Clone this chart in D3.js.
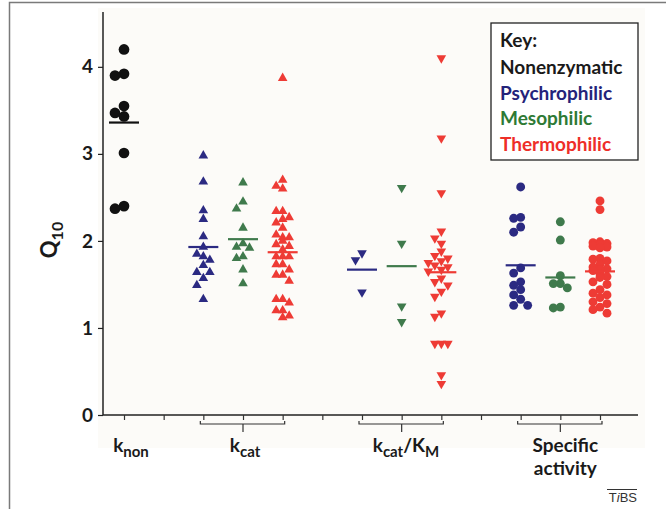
<!DOCTYPE html>
<html>
<head>
<meta charset="utf-8">
<script src="https://cdn.jsdelivr.net/npm/d3@7"></script>
<style>
  body { margin: 0; background: #fff; }
  text { font-family: Lato, "Open Sans", sans-serif; }
</style>
</head>
<body>
<script>
// values
var slotCount = 13;
var yTicks = [0, 1, 2, 3, 4];

var knon = [4.20, 3.92, 3.90, 3.55, 3.47, 3.43, 3.01, 2.40, 2.37];
var knonMean = 3.36;

var kcatPsy = [2.98, 2.68, 2.35, 2.25, 2.05, 1.93, 1.85, 1.82, 1.78, 1.72, 1.64, 1.64, 1.57, 1.49, 1.33];
var kcatMeso = [2.67, 2.45, 2.37, 2.15, 1.97, 1.92, 1.93, 1.80, 1.82, 1.67, 1.51];
var kcatThermo = [3.87, 2.70, 2.63, 2.60, 2.34, 2.34, 2.27, 2.25, 2.21, 2.15, 2.07, 2.04, 2.04, 2.00, 1.96,
                  1.94, 1.90, 1.82, 1.82, 1.82, 1.73, 1.73, 1.67, 1.61, 1.61, 1.54, 1.33, 1.33, 1.29, 1.20,
                  1.20, 1.14, 1.12];
var kcatMeans = [1.93, 2.02, 1.87];

var kmPsy = [1.86, 1.78, 1.41];
var kmMeso = [2.61, 1.97, 1.25, 1.07];
var kmThermo = [4.10, 3.18, 2.55, 2.11, 2.03, 1.97, 1.88, 1.83, 1.80, 1.77, 1.75, 1.72, 1.70, 1.67, 1.65,
                1.57, 1.53, 1.49, 1.42, 1.36, 1.17, 1.13, 0.82, 0.82, 0.82, 0.46, 0.36];
var kmMeans = [1.67, 1.71, 1.64];

var specPsy = [2.62, 2.26, 2.27, 2.16, 2.10, 1.69, 1.63, 1.53, 1.49, 1.44, 1.38, 1.33, 1.26, 1.26];
var specMeso = [2.22, 2.01, 1.60, 1.51, 1.51, 1.46, 1.23, 1.24];
var specThermo = [2.46, 2.36, 1.99, 1.98, 1.97, 1.96, 1.94, 1.93, 1.92, 1.80, 1.79, 1.77, 1.73, 1.70, 1.68,
                  1.67, 1.66, 1.62, 1.59, 1.58, 1.53, 1.50, 1.44, 1.40, 1.38, 1.35, 1.30, 1.28, 1.24, 1.21, 1.17];
var specMeans = [1.72, 1.58, 1.65];

var keyLabels = ["Nonenzymatic", "Psychrophilic", "Mesophilic", "Thermophilic"];
var colors = {non: "#111111", psy: "#2b2a82", meso: "#3f7a4c", thermo: "#ee3b35"};
var keyColors = ["#1a1a1a", "#24237a", "#2e7a35", "#ee2e28"];

var series = [
  {vals: knon, mean: knonMean, slot: 0, color: colors.non, shape: "dot", step: 9, cols: 1},
  {vals: kcatPsy, mean: kcatMeans[0], slot: 2, color: colors.psy, shape: "up", step: 6.5, cols: 2},
  {vals: kcatMeso, mean: kcatMeans[1], slot: 3, color: colors.meso, shape: "up", step: 6.5, cols: 2},
  {vals: kcatThermo, mean: kcatMeans[2], slot: 4, color: colors.thermo, shape: "up", step: 6.5, cols: 1},
  {vals: kmPsy, mean: kmMeans[0], slot: 6, color: colors.psy, shape: "down", step: 6.5, cols: 1},
  {vals: kmMeso, mean: kmMeans[1], slot: 7, color: colors.meso, shape: "down", step: 6.5, cols: 1},
  {vals: kmThermo, mean: kmMeans[2], slot: 8, color: colors.thermo, shape: "down", step: 6.5, cols: 2},
  {vals: specPsy, mean: specMeans[0], slot: 10, color: colors.psy, shape: "circle", step: 7, cols: 1},
  {vals: specMeso, mean: specMeans[1], slot: 11, color: colors.meso, shape: "circle", step: 7, cols: 1},
  {vals: specThermo, mean: specMeans[2], slot: 12, color: colors.thermo, shape: "circle", step: 7, cols: 1}
];

var svg = d3.select("body").append("svg")
    .attr("width", 666)
    .attr("height", 509)
    .style("display", "block");

// outer frame
svg.append("path")
    .attr("d", "M9.5,509V2.5H666")
    .attr("fill", "none")
    .attr("stroke", "#7a7a7a")
    .attr("stroke-width", 1.5);

// faint plot panel
svg.append("rect")
    .attr("x", 98).attr("y", 8)
    .attr("width", 547).attr("height", 440)
    .attr("fill", "#fcfbf8");

var x = d3.scaleLinear().domain([0, slotCount - 1]).range([124, 600]);
var y = d3.scaleLinear().domain([0, 4.63]).range([415, 12]);

// y axis
var yAxis = svg.append("g")
    .attr("transform", "translate(103,0)")
    .call(d3.axisLeft(y).tickValues(yTicks).tickSize(5).tickFormat(d3.format("d")));
yAxis.select(".domain").attr("d", "M0," + y(0) + "V" + y.range()[1]).attr("stroke", "#222").attr("stroke-width", 1.5);
yAxis.selectAll(".tick line").attr("stroke", "#222").attr("stroke-width", 1.2);
yAxis.selectAll(".tick text")
    .attr("x", -10)
    .style("font-size", "19px")
    .style("font-weight", "bold")
    .style("font-family", "Lato, sans-serif")
    .attr("fill", "#1a1a1a");

// x axis
var y0 = y(0);
var xAxis = svg.append("g")
    .attr("transform", "translate(0," + y0 + ")")
    .call(d3.axisBottom(x).tickValues(d3.range(slotCount)).tickSize(5).tickFormat(""));
xAxis.select(".domain").attr("d", "M103,0H638").attr("stroke", "#222").attr("stroke-width", 1.5);
xAxis.selectAll(".tick line").attr("stroke", "#333").attr("stroke-width", 1.2);

// brackets under grouped categories
[[2, 4], [6, 8], [10, 12]].forEach(function (b) {
  xAxis.append("path")
      .attr("d", "M" + (x(b[0]) - 3) + ",6V9H" + (x(b[1]) + 2) + "V6M" + x((b[0] + b[1]) / 2) + ",9V17")
      .attr("fill", "none")
      .attr("stroke", "#333")
      .attr("stroke-width", 1.2);
});

// simple column swarm; when every column is taken the least crowded one wins
function swarm(s) {
  var placed = [];
  var sorted = s.vals.slice().sort(function (a, b) { return b - a; });
  var order = [0];
  for (var k = 1; k <= s.cols; k++) order.push(-k, k);
  sorted.forEach(function (v) {
    var py = y(v), best = null, bestHits = Infinity;
    order.forEach(function (o) {
      var px = x(s.slot) + o * s.step;
      var hits = placed.filter(function (p) {
        return Math.abs(p.x - px) < s.step * 0.5 && Math.abs(p.y - py) < 7.5;
      }).length;
      if (hits < bestHits) { bestHits = hits; best = px; }
    });
    placed.push({x: best, y: py});
  });
  return placed;
}

var symTri = d3.symbol().type(d3.symbolTriangle).size(40);
var symDot = d3.symbol().type(d3.symbolCircle).size(62);
var symBig = d3.symbol().type(d3.symbolCircle).size(90);

series.forEach(function (s) {
  var pts = swarm(s);
  var gs = svg.append("g");
  gs.selectAll("path")
      .data(pts)
      .enter()
      .append("path")
      .attr("d", s.shape === "dot" ? symBig() : (s.shape === "circle" ? symDot() : symTri()))
      .attr("transform", function (d) {
        return "translate(" + d.x + "," + d.y + ")" + (s.shape === "down" ? " rotate(180)" : "");
      })
      .attr("fill", s.color);
  gs.append("line")
      .attr("x1", x(s.slot) - 15).attr("x2", x(s.slot) + 15)
      .attr("y1", y(s.mean)).attr("y2", y(s.mean))
      .attr("stroke", s.color)
      .attr("stroke-width", 2.2);
});

// y title
var yt = svg.append("text")
    .attr("transform", "translate(57,240) rotate(-90)")
    .attr("text-anchor", "middle")
    .attr("fill", "#1a1a1a")
    .style("font-weight", "bold")
    .style("font-size", "22px");
yt.append("tspan").text("Q");
yt.append("tspan").attr("dy", 6).style("font-size", "16px").text("10");

// category labels
function subLabel(cx, parts) {
  var t = svg.append("text")
      .attr("x", cx).attr("y", 452)
      .attr("text-anchor", "middle")
      .attr("fill", "#1a1a1a")
      .style("font-weight", "bold")
      .style("font-size", "19px");
  parts.forEach(function (p) {
    var sp = t.append("tspan").text(p.t);
    if (p.sub) sp.attr("dy", 5).style("font-size", "15px");
    if (p.up) sp.attr("dy", -5);
  });
}
subLabel(131, [{t: "k"}, {t: "non", sub: true}]);
subLabel(245, [{t: "k"}, {t: "cat", sub: true}]);
subLabel(406, [{t: "k"}, {t: "cat", sub: true}, {t: "/K", up: true}, {t: "M", sub: true}]);

["Specific", "activity"].forEach(function (w, i) {
  svg.append("text")
      .attr("x", x(11) + 5).attr("y", 452 + i * 23)
      .attr("text-anchor", "middle")
      .attr("fill", "#1a1a1a")
      .style("font-weight", "bold")
      .style("font-size", "19px")
      .text(w);
});

// key
svg.append("rect")
    .attr("x", 491).attr("y", 23)
    .attr("width", 147).attr("height", 137)
    .attr("fill", "#fff")
    .attr("stroke", "#222")
    .attr("stroke-width", 1.3);
svg.append("text")
    .attr("x", 500).attr("y", 47)
    .attr("fill", "#1a1a1a")
    .style("font-weight", "bold")
    .style("font-size", "19px")
    .text("Key:");
svg.selectAll(".key")
    .data(keyLabels)
    .enter()
    .append("text")
    .attr("x", 500)
    .attr("y", function (d, i) { return 74 + i * 25.7; })
    .attr("fill", function (d, i) { return keyColors[i]; })
    .style("font-weight", "bold")
    .style("font-size", "19px")
    .text(function (d) { return d; });

// journal mark
var tb = svg.append("text")
    .attr("x", 637).attr("y", 502)
    .attr("text-anchor", "end")
    .attr("fill", "#333")
    .style("font-size", "13px")
    .style("font-family", "'Liberation Sans', Arial, sans-serif");
tb.append("tspan").text("T");
tb.append("tspan").style("font-style", "italic").text("i");
tb.append("tspan").text("BS");
svg.append("line")
    .attr("x1", 607).attr("x2", 637)
    .attr("y1", 489.5).attr("y2", 489.5)
    .attr("stroke", "#333")
    .attr("stroke-width", 1);
</script>
</body>
</html>
